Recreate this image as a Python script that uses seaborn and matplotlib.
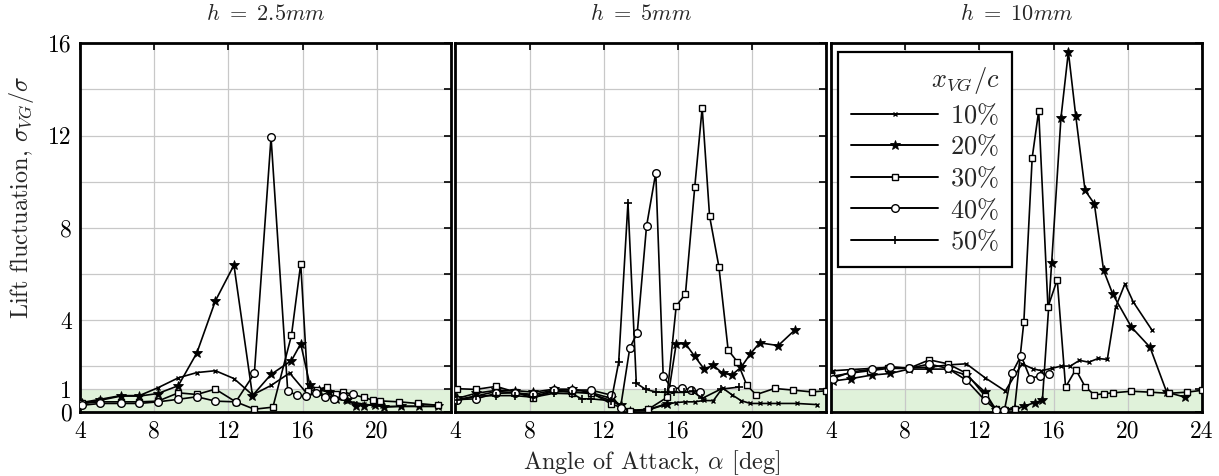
import numpy as np
import pandas as pd
import seaborn as sns
import matplotlib.pyplot as plt
from matplotlib.lines import Line2D

# ---- data (angle of attack [deg], sigma_VG / sigma) ----
panels = [r"$h\ =\ 2.5mm$", r"$h\ =\ 5mm$", r"$h\ =\ 10mm$"]
series_names = ["10%", "20%", "30%", "40%", "50%"]

# h = 2.5 mm
p1_10_a = [4.1, 5.1, 6.2, 7.2, 8.2, 9.3, 10.3, 11.3, 12.3, 13.3, 14.3, 15.3, 16.3, 16.8, 17.3, 17.8, 18.3, 18.8, 19.3, 19.8, 20.3, 21.3, 22.3, 23.3]
p1_10_v = [0.42, 0.56, 0.72, 0.72, 1.06, 1.49, 1.72, 1.8, 1.46, 0.75, 1.16, 1.7, 0.75, 0.8, 0.72, 0.6, 0.5, 0.42, 0.35, 0.3, 0.25, 0.25, 0.25, 0.25]
p1_20_a = [4.1, 5.1, 6.2, 7.2, 8.2, 9.3, 10.3, 11.3, 12.3, 13.3, 14.3, 15.4, 15.9, 16.4, 16.9, 17.4, 17.8, 18.4, 18.9, 19.3, 19.9, 20.4, 21.3, 22.3, 23.3]
p1_20_v = [0.38, 0.52, 0.7, 0.7, 0.81, 1.15, 2.57, 4.83, 6.38, 0.72, 1.64, 2.24, 2.97, 1.16, 0.97, 0.87, 0.58, 0.51, 0.29, 0.29, 0.32, 0.22, 0.26, 0.26, 0.26]
p1_30_a = [4.1, 5.1, 6.2, 7.2, 8.2, 9.3, 10.3, 11.3, 12.4, 13.4, 14.4, 15.4, 15.9, 16.3, 16.8, 17.3, 17.8, 18.2, 19.3, 19.8, 20.2, 21.2, 22.2, 23.3]
p1_30_v = [0.38, 0.45, 0.45, 0.45, 0.48, 0.84, 0.77, 1.0, 0.45, 0.13, 0.22, 3.33, 6.44, 0.91, 0.98, 1.1, 0.78, 0.88, 0.64, 0.52, 0.49, 0.45, 0.38, 0.3]
p1_40_a = [4.1, 5.1, 6.2, 7.2, 8.2, 9.3, 10.3, 11.3, 12.4, 13.4, 14.3, 15.2, 15.7, 16.2, 16.7, 17.2, 17.7, 18.2, 18.7]
p1_40_v = [0.3, 0.38, 0.38, 0.38, 0.45, 0.56, 0.67, 0.48, 0.45, 1.68, 11.92, 0.91, 0.74, 0.7, 0.84, 0.67, 0.58, 0.7, 0.77]

# h = 5 mm
p2_10_a = [4.1, 5.1, 6.2, 7.2, 8.2, 9.3, 10.3, 11.3, 12.4, 13.4, 14.4, 15.2, 15.9, 16.4, 16.9, 17.4, 17.9, 18.4, 18.9, 19.4, 19.9, 20.4, 20.9, 21.4, 22.4, 23.5]
p2_10_v = [0.5, 0.7, 0.9, 0.85, 0.7, 0.88, 0.9, 0.8, 0.5, 0.07, 0.12, 0.32, 0.42, 0.45, 0.45, 0.51, 0.5, 1.05, 0.76, 0.5, 0.38, 0.38, 0.38, 0.38, 0.38, 0.33]
p2_20_a = [4.1, 5.1, 6.2, 7.2, 8.2, 9.3, 10.3, 11.3, 12.4, 12.9, 13.4, 14.4, 15.4, 15.9, 16.4, 16.9, 17.4, 17.9, 18.4, 18.9, 19.4, 19.9, 20.4, 21.4, 22.3]
p2_20_v = [0.6, 0.82, 0.95, 0.94, 0.87, 1.0, 1.0, 0.85, 0.6, 0.3, 0.05, 0.1, 0.35, 2.97, 2.97, 2.42, 1.88, 2.03, 1.69, 1.62, 1.95, 2.53, 3.01, 2.89, 3.57]
p2_30_a = [4.1, 5.1, 6.2, 7.2, 8.2, 9.3, 10.3, 11.3, 12.4, 13.4, 14.4, 15.4, 15.9, 16.4, 16.9, 17.3, 17.7, 18.2, 18.7, 19.2, 19.7, 20.2, 21.2, 22.2, 23.2, 24.0]
p2_30_v = [1.02, 0.99, 1.12, 0.88, 0.6, 0.98, 0.85, 0.85, 0.36, 0.07, 0.13, 0.64, 4.6, 5.14, 9.77, 13.2, 8.5, 6.32, 2.7, 2.18, 1.18, 0.76, 1.03, 0.96, 0.88, 0.93]
p2_40_a = [4.1, 5.1, 6.2, 7.2, 8.2, 9.3, 10.3, 11.3, 12.4, 12.9, 13.4, 13.8, 14.3, 14.8, 15.2, 15.7, 16.2, 16.7, 17.2]
p2_40_v = [0.55, 0.58, 0.82, 0.84, 0.77, 0.96, 0.96, 0.96, 0.74, 0.2, 2.79, 3.44, 8.06, 10.39, 1.55, 1.01, 1.07, 0.96, 0.87]
p2_50_a = [4.1, 5.1, 6.2, 7.2, 8.2, 9.3, 10.3, 10.8, 11.3, 12.4, 12.8, 13.3, 13.75, 14.25, 14.8, 15.3, 15.8, 16.3, 16.8, 17.3, 18.3, 19.3]
p2_50_v = [0.55, 0.7, 0.72, 0.72, 0.65, 0.82, 0.8, 0.58, 0.58, 0.5, 2.17, 9.09, 1.26, 0.99, 0.88, 0.86, 0.86, 0.86, 0.9, 0.6, 1.0, 1.09]

# h = 10 mm
p3_10_a = [4.1, 5.1, 6.2, 7.2, 8.2, 9.3, 10.3, 11.3, 12.3, 13.4, 14.3, 14.9, 15.35, 15.9, 16.4, 16.9, 17.4, 17.9, 18.4, 18.9, 19.35, 19.85, 20.3, 21.3]
p3_10_v = [1.8, 1.85, 1.9, 1.95, 1.92, 1.95, 2.05, 2.1, 1.5, 0.92, 2.1, 1.88, 1.8, 1.9, 2.0, 2.0, 2.25, 2.17, 2.33, 2.29, 4.56, 5.57, 4.78, 3.57]
p3_20_a = [4.1, 5.1, 6.2, 7.2, 8.2, 9.3, 10.3, 11.3, 12.3, 12.9, 13.4, 13.9, 14.4, 15.0, 15.4, 15.9, 16.4, 16.8, 17.2, 17.7, 18.2, 18.7, 19.2, 20.2, 21.2, 22.1, 23.1]
p3_20_v = [1.35, 1.46, 1.61, 1.68, 1.87, 1.87, 1.87, 1.61, 0.88, 0.1, 0.09, 0.12, 0.26, 0.42, 0.52, 6.48, 12.76, 15.63, 12.84, 9.62, 9.04, 6.15, 5.11, 3.69, 2.82, 0.87, 0.65]
p3_30_a = [4.0, 5.1, 6.1, 7.1, 8.2, 9.3, 10.3, 11.3, 12.3, 12.9, 13.4, 13.9, 14.4, 14.85, 15.2, 15.7, 16.2, 16.65, 17.2, 17.7, 18.2, 18.7, 19.2, 20.2, 21.2, 22.2, 23.2, 24.0]
p3_30_v = [1.55, 1.7, 1.8, 1.9, 1.9, 2.27, 2.1, 1.69, 0.72, 0.12, 0.1, 0.15, 3.91, 11.04, 13.07, 4.56, 5.75, 1.09, 1.85, 1.11, 0.75, 0.8, 0.84, 0.91, 0.87, 0.82, 0.87, 0.95]
p3_40_a = [4.1, 5.1, 6.2, 7.2, 8.2, 9.3, 10.3, 11.3, 12.3, 12.9, 13.35, 13.75, 14.25, 14.75, 15.25, 15.75]
p3_40_v = [1.46, 1.75, 1.86, 1.97, 1.9, 2.09, 1.9, 1.39, 0.52, 0.1, 0.08, 1.68, 2.45, 1.46, 1.58, 1.64]

data = [
    {"10%": (p1_10_a, p1_10_v), "20%": (p1_20_a, p1_20_v), "30%": (p1_30_a, p1_30_v), "40%": (p1_40_a, p1_40_v)},
    {"10%": (p2_10_a, p2_10_v), "20%": (p2_20_a, p2_20_v), "30%": (p2_30_a, p2_30_v), "40%": (p2_40_a, p2_40_v),
     "50%": (p2_50_a, p2_50_v)},
    {"10%": (p3_10_a, p3_10_v), "20%": (p3_20_a, p3_20_v), "30%": (p3_30_a, p3_30_v), "40%": (p3_40_a, p3_40_v)},
]

# marker style per series
styles = {
    "10%": dict(marker="x", markersize=3.5, markeredgewidth=1.0, markerfacecolor="black"),
    "20%": dict(marker="*", markersize=7.5, markeredgewidth=0.6, markerfacecolor="black"),
    "30%": dict(marker="s", markersize=5, markeredgewidth=1.0, markerfacecolor="white"),
    "40%": dict(marker="o", markersize=5.5, markeredgewidth=1.0, markerfacecolor="white"),
    "50%": dict(marker="+", markersize=6, markeredgewidth=1.2, markerfacecolor="black"),
}

sns.set_theme(style="whitegrid")
plt.rcParams["font.family"] = "cmr10"
plt.rcParams["mathtext.fontset"] = "cm"
plt.rcParams["axes.formatter.use_mathtext"] = True

fig, axes = plt.subplots(1, 3, figsize=(12.19, 4.76), dpi=100, sharey=True)
fig.subplots_adjust(left=0.0656, right=0.986, top=0.909, bottom=0.134, wspace=0.012)

for i, ax in enumerate(axes):
    ax.axhspan(0, 1, color="#e0f2da", zorder=0, lw=0)
    for name in series_names:
        if name not in data[i]:
            continue
        a, v = data[i][name]
        df = pd.DataFrame({"Angle": a, "Value": v})
        sns.lineplot(data=df, x="Angle", y="Value", ax=ax, color="black", lw=1.2,
                     sort=False, estimator=None, markeredgecolor="black", zorder=3,
                     **styles[name])

    ax.set_xlim(4, 24)
    ax.set_ylim(0, 16)
    ax.set_xticks([4, 8, 12, 16, 20, 24])
    if i < 2:
        ax.set_xticklabels(["4", "8", "12", "16", "20", ""])
    else:
        ax.set_xticklabels(["4", "8", "12", "16", "20", "24"])
    ax.set_yticks([0, 1, 2, 4, 6, 8, 10, 12, 14, 16])
    ax.set_yticklabels(["0", "1", "", "4", "", "8", "", "12", "", "16"])
    ax.set_xlabel("")
    ax.set_ylabel("")
    ax.grid(True, color="#c8c8c8", lw=0.9)
    ax.tick_params(direction="in", length=5, width=1.2, top=True, right=True,
                   labelsize=17, pad=6, colors="black")
    for sp in ax.spines.values():
        sp.set_color("black")
        sp.set_linewidth(2.0)
    ax.set_title(panels[i], fontsize=16, pad=17)

handles = [Line2D([0], [0], color="black", lw=1.4, markeredgecolor="black", **styles[n])
           for n in series_names]
labels = [r"$10\%$", r"$20\%$", r"$30\%$", r"$40\%$", r"$50\%$"]
leg = axes[2].legend(handles, labels, title=r"$x_{VG}/c$", loc="upper left",
                     bbox_to_anchor=(0.005, 0.99), fontsize=19, title_fontsize=19,
                     handlelength=3.3, handletextpad=0.45, labelspacing=0.22,
                     frameon=True, fancybox=False, framealpha=1, alignment="right",
                     borderpad=0.5, borderaxespad=0.2)
leg.get_frame().set_edgecolor("black")
leg.get_frame().set_linewidth(1.6)

fig.text(0.018, 0.586, r"Lift fluctuation, $\sigma_{VG}/\sigma$", rotation=90,
         fontsize=17.5, ha="center", va="center")
fig.text(0.535, 0.028, r"Angle of Attack, $\alpha$ [deg]", fontsize=17.5,
         ha="center", va="center")

plt.savefig("out.png", dpi=100)
